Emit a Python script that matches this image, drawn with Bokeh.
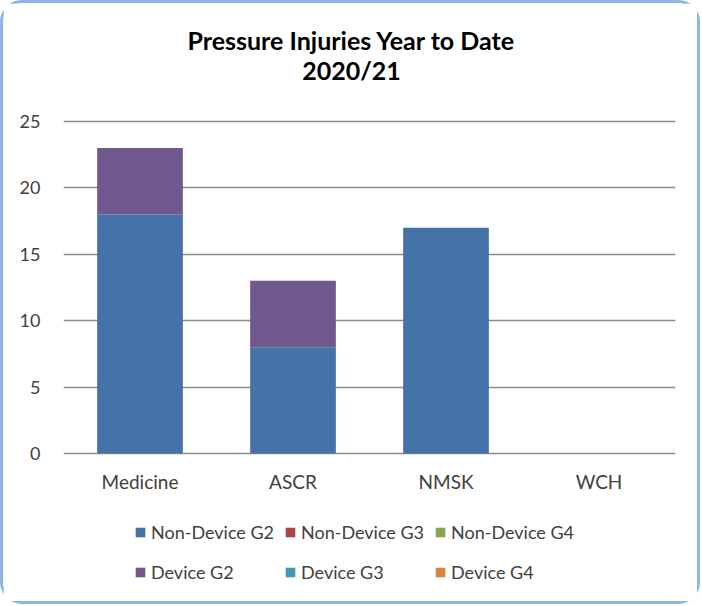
from bokeh.plotting import figure
from bokeh.models import ColumnDataSource, Range1d, Legend, LegendItem, Label, FixedTicker
from bokeh.core.properties import value
from bokeh.layouts import column
from bokeh.embed import file_html
from bokeh.resources import INLINE

categories = ["Medicine", "ASCR", "NMSK", "WCH"]
series_names = ["Non-Device G2", "Non-Device G3", "Non-Device G4", "Device G2", "Device G3", "Device G4"]
non_device_g2 = [18, 8, 17, 0]
non_device_g3 = [0, 0, 0, 0]
non_device_g4 = [0, 0, 0, 0]
device_g2 = [5, 5, 0, 0]
device_g3 = [0, 0, 0, 0]
device_g4 = [0, 0, 0, 0]
y_ticks = [0, 5, 10, 15, 20, 25]
title_lines = ["Pressure Injuries Year to Date", "2020/21"]
colors = ["#4572A7", "#AA4643", "#89A54E", "#71588F", "#4198AF", "#DB843D"]

FONT = "Lato"
TXT = "#404040"

source = ColumnDataSource(dict(
    cat=categories, zero=[0] * len(categories),
    ndg2=non_device_g2, ndg3=non_device_g3, ndg4=non_device_g4,
    dg2=device_g2, dg3=device_g3, dg4=device_g4,
))
keys = ["ndg2", "ndg3", "ndg4", "dg2", "dg3", "dg4"]

# layout geometry (canvas pixels)
W, H = 694, 598
F_LEFT, F_RIGHT = 60, 672
F_TOP, Y25, Y0, F_BOTTOM = 2, 118, 450, 596
ppu = (Y0 - Y25) / 25.0
y_end = 25 + (Y25 - F_TOP) / ppu
y_start = -(F_BOTTOM - Y0) / ppu

p = figure(x_range=categories, y_range=Range1d(y_start, y_end), width=W, height=H,
           output_backend="svg", toolbar_location=None,
           min_border_left=F_LEFT, min_border_right=W - F_RIGHT,
           min_border_top=F_TOP, min_border_bottom=H - F_BOTTOM)
p.x_range.range_padding = 0
p.title.visible = False

renderers = p.vbar_stack(keys, x="cat", width=0.56, source=source,
                         fill_color=colors, line_color=None)

p.text(x="cat", y="zero", text="cat", source=source, y_offset=28,
       text_align="center", text_baseline="middle",
       text_font=value(FONT), text_font_size="19px", text_color=TXT)

items = [LegendItem(label=n, renderers=[r]) for n, r in zip(series_names, renderers)]
order = [0, 3, 1, 4, 2, 5]
legend = Legend(items=[items[i] for i in order], ncols=3, location=(71, 12),
                label_text_font=FONT, label_text_font_size="18px", label_text_color=TXT,
                glyph_width=12, glyph_height=12, label_standoff=5, spacing=10,
                label_height=30, border_line_color=None, background_fill_alpha=0,
                padding=0, margin=0)
p.add_layout(legend, "center")

title_centers = [36, 66]  # canvas y of each title line
for txt, cy in zip(title_lines, title_centers):
    p.add_layout(Label(x=348 - F_LEFT, y=F_BOTTOM - cy, x_units="screen", y_units="screen",
                       text=txt, text_align="center", text_baseline="middle",
                       text_font=FONT, text_font_size="25px", text_font_style="bold",
                       text_color="black"))

p.yaxis.ticker = FixedTicker(ticks=y_ticks)
p.yaxis.axis_line_color = None
p.yaxis.major_tick_line_color = None
p.yaxis.minor_tick_line_color = None
p.yaxis.major_label_text_font = FONT
p.yaxis.major_label_text_font_size = "18px"
p.yaxis.major_label_text_color = TXT
p.yaxis.major_label_standoff = 17
p.xaxis.visible = False

p.xgrid.grid_line_color = None
p.ygrid.ticker = FixedTicker(ticks=y_ticks)
p.ygrid.grid_line_color = "#8c8c8c"
p.ygrid.grid_line_width = 1.5
p.outline_line_color = None

layout = column(p, styles={"border": "3px solid #8EB4E3", "border-radius": "22px"})

open("out.html", "w").write(file_html(layout, INLINE))
